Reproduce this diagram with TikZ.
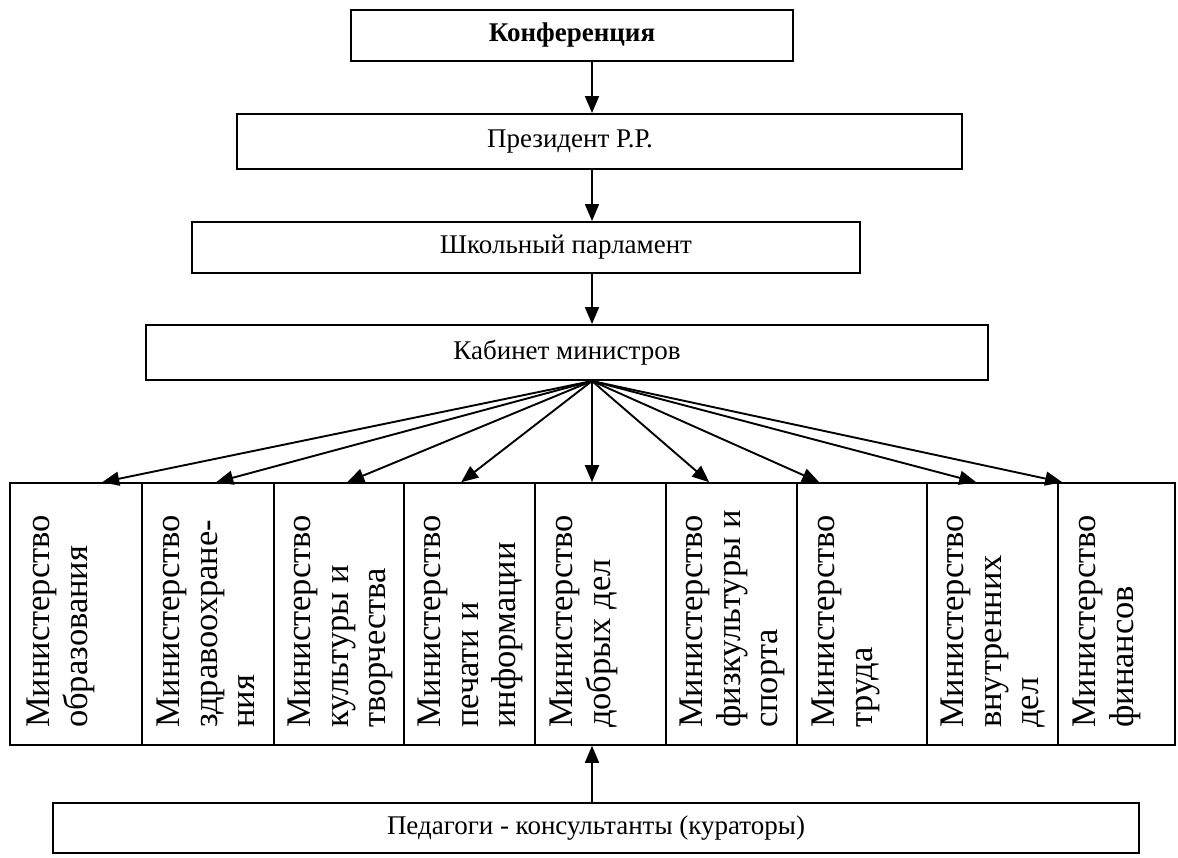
\documentclass[tikz,border=0pt]{standalone}
\usepackage{fontspec}
\setmainfont{Liberation Serif}
\usetikzlibrary{arrows.meta,calc}
\begin{document}
\begin{tikzpicture}[x=1pt,y=1pt,
  box/.style={draw=black,line width=2pt,rectangle,inner sep=0pt},
  lbl/.style={font=\fontsize{27}{32}\selectfont,inner sep=0pt},
  minbox/.style={draw=black,line width=1.6pt,rectangle,inner sep=0pt,minimum height=262pt},
  mtext/.style={rotate=90,anchor=north west,align=left,inner sep=0pt,font=\fontsize{34.5}{37.5}\selectfont},
  arr/.style={line width=1.9pt,-{Triangle[length=17pt,width=14pt]}}]
\useasboundingbox (0,0) rectangle (1178,-857);
% top chain
\node[box,minimum width=442pt,minimum height=51pt] (b1) at (572,-35.5) {};
\node[lbl,font=\bfseries\fontsize{27}{32}\selectfont] (t1) at (b1) {Конференция};
\node[box,minimum width=725pt,minimum height=55pt] (b2) at (599.5,-141.5) {};
\node[lbl] (t2) at (570,-141.5) {Президент Р.Р.};
\node[box,minimum width=668pt,minimum height=51pt] (b3) at (526,-247.5) {};
\node[lbl] (t3) at (566,-247.5) {Школьный парламент};
\node[box,minimum width=842pt,minimum height=55pt] (b4) at (567,-352.5) {};
\node[lbl] (t4) at (b4) {Кабинет министров};
% ministries
\node[minbox,minimum width=132pt] (m1) at (76,-614) {};
\node[minbox,minimum width=132pt] (m2) at (208,-614) {};
\node[minbox,minimum width=130pt] (m3) at (339,-614) {};
\node[minbox,minimum width=131pt] (m4) at (469.5,-614) {};
\node[minbox,minimum width=131pt] (m5) at (600.5,-614) {};
\node[minbox,minimum width=131pt] (m6) at (731.5,-614) {};
\node[minbox,minimum width=130pt] (m7) at (862,-614) {};
\node[minbox,minimum width=131pt] (m8) at (992.5,-614) {};
\node[minbox,minimum width=117pt] (m9) at (1116.5,-614) {};
\node[mtext] (l1) at (27,-728) {Министерство\\образования};
\node[mtext] (l2) at (157,-728) {Министерство\\здравоохране-\\ния};
\node[mtext] (l3) at (288,-728) {Министерство\\культуры и\\творчества};
\node[mtext] (l4) at (418,-728) {Министерство\\печати и\\информации};
\node[mtext] (l5) at (550,-728) {Министерство\\добрых дел};
\node[mtext] (l6) at (680,-728) {Министерство\\физкультуры и\\спорта};
\node[mtext] (l7) at (812,-728) {Министерство\\труда};
\node[mtext] (l8) at (941,-728) {Министерство\\внутренних\\дел};
\node[mtext] (l9) at (1073,-728) {Министерство\\финансов};
% bottom
\node[box,minimum width=1086pt,minimum height=50pt] (b5) at (596,-828) {};
\node[lbl] (t5) at (b5) {Педагоги - консультанты (кураторы)};
% connectors
\coordinate (cx) at (592,0);
\draw[arr] (b1.south -| cx) -- (b2.north -| cx);
\draw[arr] (b2.south -| cx) -- (b3.north -| cx);
\draw[arr] (b3.south -| cx) -- (b4.north -| cx);
\coordinate (o) at (b4.south -| cx);
\draw[arr] (o) -- ([xshift=93pt]m1.north west);
\draw[arr] (o) -- ([xshift=75pt]m2.north west);
\draw[arr] (o) -- ([xshift=74pt]m3.north west);
\draw[arr] (o) -- ([xshift=58pt]m4.north west);
\draw[arr] (o) -- (m5.north -| o);
\draw[arr] (o) -- ([xshift=44pt]m6.north west);
\draw[arr] (o) -- ([xshift=23pt]m7.north west);
\draw[arr] (o) -- ([xshift=50pt]m8.north west);
\draw[arr] (o) -- ([xshift=5pt]m9.north west);
\draw[arr] (b5.north -| cx) -- (m5.south -| cx);
\end{tikzpicture}
\end{document}
